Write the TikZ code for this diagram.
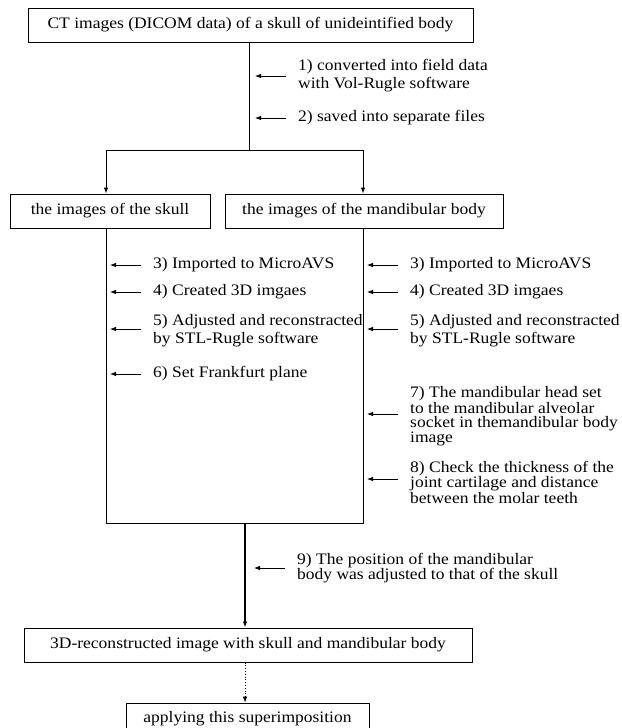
\documentclass[tikz,border=0pt]{standalone}
\usepackage{fontspec}
\setmainfont{Liberation Serif}[FakeStretch=1.094]
\usetikzlibrary{arrows.meta}
\begin{document}
\begin{tikzpicture}[x=1pt,y=-1pt,
  box/.style={draw,line width=1pt,inner sep=0pt,font=\fontsize{16}{17}\selectfont},
  lbl/.style={anchor=west,align=left,inner sep=0pt,font=\fontsize{16}{18}\selectfont},
  tight/.style={font=\fontsize{16}{14.5}\selectfont},
  conn/.style={line width=1pt},
  arr/.style={-{Latex[length=6pt,width=4.5pt]},line width=0.8pt},
  ]
\useasboundingbox (0,0) rectangle (621,728);
\clip (0,0) rectangle (621,728);
% boxes
\node[box,minimum width=445pt,minimum height=34pt] (top) at (250.5,25) {CT images (DICOM data) of a skull of unideintified body};
\node[box,minimum width=200pt,minimum height=34pt] (lbox) at (110,211) {the images of the skull};
\node[box,minimum width=278pt,minimum height=34pt] (rbox) at (364,211) {the images of the mandibular body};
\node[box,minimum width=448pt,minimum height=34pt] (d3) at (248,645) {3D-reconstructed image with skull and mandibular body};
\node[box,minimum width=243pt,minimum height=32pt] (fin) at (247.5,719) {applying this superimposition};
% coordinates
\coordinate (s0) at (249,150);
\coordinate (sl) at (106,150);
\coordinate (sr) at (363,150);
\coordinate (bl) at (106,523);
\coordinate (br) at (363,523);
\coordinate (m) at (245,523);
% connectors
\draw[conn] (top.south -| s0) -- (s0);
\draw[conn] (sl) -- (sr);
\draw[conn,arr,line width=1pt] (sl) -- (lbox.north -| sl);
\draw[conn,arr,line width=1pt] (sr) -- (rbox.north -| sr);
\draw[conn] (lbox.south -| bl) -- (bl) -- (br) -- (rbox.south -| br);
\draw[conn,arr,line width=1.2pt] (m) -- (d3.north -| m);
\draw[arr,dotted,line width=0.6pt] (d3.south -| m) -- (fin.north -| m);
% labels
\node[lbl] (t1) at (298,76) {1) converted into field data\\with Vol-Rugle software};
\node[lbl] (t2) at (298,118) {2) saved into separate files};
\node[lbl] (l3) at (153,265) {3) Imported to MicroAVS};
\node[lbl] (l4) at (153,292) {4) Created 3D imgaes};
\node[lbl] (l5) at (153,331) {5) Adjusted and reconstracted\\by STL-Rugle software};
\node[lbl] (l6) at (153,374) {6) Set Frankfurt plane};
\node[lbl] (r3) at (410,265) {3) Imported to MicroAVS};
\node[lbl] (r4) at (410,292) {4) Created 3D imgaes};
\node[lbl] (r5) at (410,331) {5) Adjusted and reconstracted\\by STL-Rugle software};
\node[lbl,tight] (r7) at (410,416) {7) The mandibular head set\\to the mandibular alveolar\\socket in themandibular body\\image};
\node[lbl,tight] (r8) at (410,482) {8) Check the thickness of the\\joint cartilage and distance\\between the molar teeth};
\node[lbl,tight] (t9) at (297,568) {9) The position of the mandibular\\body was adjusted to that of the skull};
% side arrows
\foreach \n in {t1,t2,l3,l4,l6,r3,r4,t9}{
  \draw[arr] ([xshift=-12pt]\n.west) -- ([xshift=-43pt]\n.west);
}
\foreach \n in {l5,r5}{
  \draw[arr] ([xshift=-12pt,yshift=2pt]\n.west) -- ([xshift=-43pt,yshift=2pt]\n.west);
}
\draw[arr] ([xshift=-12pt,yshift=2pt]r7.west) -- ([xshift=-43pt,yshift=2pt]r7.west);
\draw[arr] ([xshift=-12pt,yshift=3pt]r8.west) -- ([xshift=-43pt,yshift=3pt]r8.west);
\end{tikzpicture}
\end{document}
